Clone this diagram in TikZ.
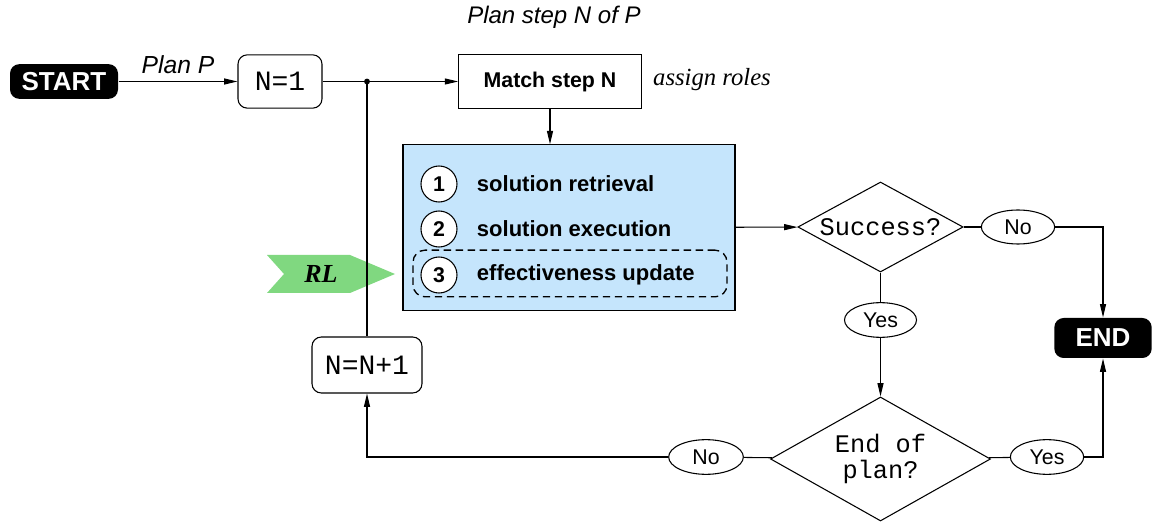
\documentclass[tikz,border=0pt]{standalone}
\usepackage{fontspec}
\setmainfont{Liberation Serif}
\setsansfont{Liberation Sans}
\setmonofont{Liberation Mono}
\usetikzlibrary{shapes.geometric,arrows.meta}
\definecolor{boxblue}{RGB}{197,229,252}
\definecolor{rlgreen}{RGB}{128,216,128}
\tikzset{
  term/.style={fill=black,text=white,rounded corners=7pt,inner sep=0pt,
    font=\sffamily\bfseries\fontsize{19.5}{20}\selectfont},
  assign/.style={draw,rounded corners=7pt,inner sep=0pt,
    font=\ttfamily\fontsize{21}{22}\selectfont},
  test/.style={draw,diamond,aspect=1.8,inner sep=0pt,align=center,
    font=\ttfamily\fontsize{19}{19.5}\selectfont},
  answer/.style={draw,ellipse,inner sep=0pt,fill=white,
    font=\sffamily\fontsize{16}{18}\selectfont},
  num/.style={draw,circle,fill=white,minimum size=27pt,inner sep=0pt,
    font=\sffamily\bfseries\fontsize{16}{18}\selectfont},
  phase/.style={anchor=west,font=\sffamily\bfseries\fontsize{16.5}{18}\selectfont}
}
\begin{document}
\begin{tikzpicture}[x=0.75pt,y=-0.75pt,line width=0.8pt,
    >={Triangle[length=10pt,width=4.5pt]}]
  \useasboundingbox (0,0) rectangle (1155,523);
  \draw
    (64,81.5) node[term,minimum width=81pt,minimum height=26pt] (start){START}
    (280,81.5) node[assign,minimum width=63pt,minimum height=40pt] (init){N=1}
    (550,81.5) node[draw,inner sep=0pt,minimum width=137pt,minimum height=41pt,
      font=\sffamily\bfseries\fontsize{16}{18}\selectfont] (match){Match step N}
    (554,17) node[font=\sffamily\itshape\fontsize{18}{20}\selectfont] (planstep){Plan step N of P}
    (712,80) node[font=\itshape\fontsize{18.5}{20}\selectfont] (roles){assign roles}
    (569,227.5) node[draw,fill=boxblue,minimum width=249pt,minimum height=124pt] (blue){}
    (570,273.5) node[draw,dash pattern=on 5.5pt off 3.5pt,line width=1pt,
      rounded corners=9pt,minimum width=235.5pt,minimum height=35pt] (rlbox){}
    (439,184) node[num] (c1){1}
    (439,229) node[num] (c2){2}
    (439,275) node[num] (c3){3}
    (472,184) node[phase] (t1){solution retrieval}
    (472,229) node[phase] (t2){solution execution}
    (472,275) node[phase] (t3){effectiveness update}
    (367,365) node[assign,minimum width=82.5pt,minimum height=42pt] (incr){N=N+1}
    (880.5,227) node[test,minimum width=124pt,minimum height=67.5pt] (succ){Success?}
    (1018,227) node[answer,minimum width=55pt,minimum height=25.5pt] (no1){No}
    (880.5,320) node[answer,minimum width=54pt,minimum height=26pt] (yes1){Yes}
    (880.5,459) node[test,minimum width=165pt,minimum height=93pt] (eop){End of\\plan?}
    (1047,457) node[answer,minimum width=55pt,minimum height=26pt] (yes2){Yes}
    (706,457) node[answer,minimum width=56pt,minimum height=26pt] (no2){No}
    (1103,338) node[term,minimum width=73pt,minimum height=30pt] (end){END};
  % RL marker
  \fill[rlgreen] (267,255) -- (350,255) -- (395,274) -- (350,293) -- (267,293)
    -- (284,274) -- cycle;
  \node[font=\bfseries\itshape\fontsize{19.5}{20}\selectfont] (rl) at (321,274) {RL};
  \coordinate (split) at (367,81.5);
  \fill (split) circle (2.2pt);
  \begin{scope}[->]
    \draw (start) -- node[above=2pt,font=\sffamily\itshape\fontsize{18.5}{20}\selectfont] {Plan P} (init);
    \draw (init) -- (match);
    \draw (match) -- (match |- blue.north);
    \draw (blue) -- (succ);
    \draw (no1) -| (end);
    \draw (yes1) -- (eop);
    \draw (yes2) -| (end);
    \draw (no2) -| (incr);
  \end{scope}
  \begin{scope}[-]
    \draw (split) -- (incr);
    \draw (succ) -- (no1);
    \draw (succ) -- (yes1);
    \draw (eop) -- (yes2);
    \draw (eop) -- (no2);
  \end{scope}
\end{tikzpicture}
\end{document}
